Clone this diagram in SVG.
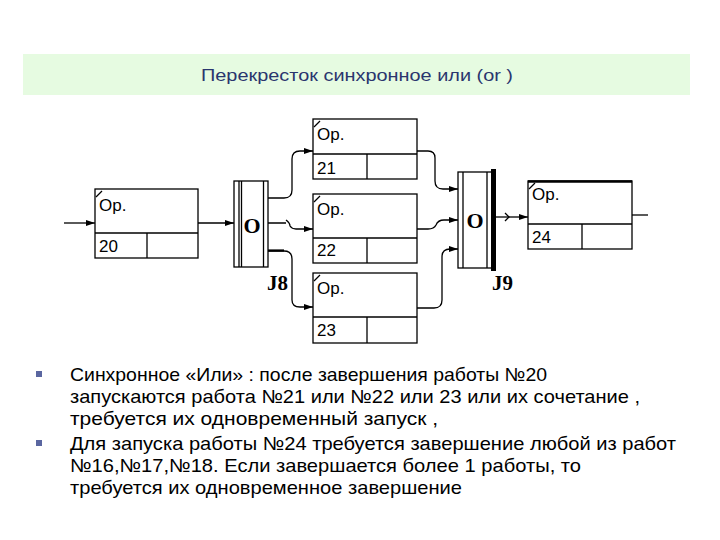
<svg xmlns="http://www.w3.org/2000/svg" width="720" height="540" viewBox="0 0 720 540">
<defs>
<marker id="ah" markerWidth="10" markerHeight="8" refX="9" refY="4" orient="auto" markerUnits="userSpaceOnUse">
<path d="M0,1 L9,4 L0,7 Z" fill="#000"/>
</marker>
<style>
.box{fill:#fff;stroke:#000;stroke-width:1.3}
.ln{fill:none;stroke:#000;stroke-width:1.3}
.con{fill:none;stroke:#000;stroke-width:1.3}
.op{font-family:"Liberation Sans",Arial,sans-serif;font-size:17px;fill:#000}
.jn{font-family:"Liberation Serif","Times New Roman",serif;font-weight:bold;font-size:22px;fill:#000}
.jl{font-family:"Liberation Serif","Times New Roman",serif;font-weight:bold;font-size:21px;fill:#000}
.bt{font-family:"Liberation Sans",Arial,sans-serif;font-size:19px;fill:#000}
.hd{font-family:"Liberation Sans",Arial,sans-serif;font-size:17px;fill:#2a356e}
</style>
</defs>
<rect width="720" height="540" fill="#fff"/>
<g id="header">
<rect x="23" y="54" width="667" height="41" fill="#e6fbe1"/>
<text class="hd" x="201" y="81" textLength="312" lengthAdjust="spacingAndGlyphs">Перекресток синхронное или (or )</text>
</g>

<g id="op20">
<rect class="box" x="95" y="189" width="103" height="69"/>
<line class="ln" x1="95" y1="233" x2="198" y2="233"/>
<line class="ln" x1="147" y1="233" x2="147" y2="258"/>
<line class="ln" x1="96" y1="197" x2="102" y2="191"/>
<text class="op" x="99" y="211">Op.</text>
<text class="op" x="99" y="252">20</text>
</g>
<g id="op21">
<rect class="box" x="313" y="119" width="104" height="60"/>
<line class="ln" x1="313" y1="154" x2="417" y2="154"/>
<line class="ln" x1="367" y1="154" x2="367" y2="179"/>
<line class="ln" x1="314" y1="127" x2="320" y2="121"/>
<text class="op" x="317" y="140">Op.</text>
<text class="op" x="317" y="174">21</text>
</g>
<g id="op22">
<rect class="box" x="313" y="194" width="104" height="69"/>
<line class="ln" x1="313" y1="238" x2="417" y2="238"/>
<line class="ln" x1="367" y1="238" x2="367" y2="263"/>
<line class="ln" x1="314" y1="202" x2="320" y2="196"/>
<text class="op" x="317" y="215">Op.</text>
<text class="op" x="317" y="256">22</text>
</g>
<g id="op23">
<rect class="box" x="313" y="273" width="104" height="70"/>
<line class="ln" x1="313" y1="317" x2="417" y2="317"/>
<line class="ln" x1="367" y1="317" x2="367" y2="343"/>
<line class="ln" x1="314" y1="281" x2="320" y2="275"/>
<text class="op" x="317" y="294">Op.</text>
<text class="op" x="317" y="336">23</text>
</g>
<g id="op24">
<rect class="box" x="528" y="181" width="104" height="68"/>
<line x1="528" y1="181.5" x2="632" y2="181.5" stroke="#000" stroke-width="2.5"/>
<line class="ln" x1="528" y1="224" x2="632" y2="224"/>
<line class="ln" x1="582" y1="224" x2="582" y2="249"/>
<line class="ln" x1="529" y1="189" x2="535" y2="183"/>
<text class="op" x="532" y="200">Op.</text>
<text class="op" x="532" y="243">24</text>
</g>

<g id="J8">
<rect class="box" x="234" y="181" width="34" height="86"/>
<line class="ln" x1="239" y1="181" x2="239" y2="267"/>
<line class="ln" x1="241.5" y1="181" x2="241.5" y2="267"/>
<line class="ln" x1="263.5" y1="181" x2="263.5" y2="267"/>
<text class="jn" x="252" y="233" text-anchor="middle">O</text>
<text class="jl" x="267" y="290">J8</text>
</g>
<g id="J9">
<rect class="box" x="458" y="172" width="34" height="96"/>
<line class="ln" x1="463" y1="172" x2="463" y2="268"/>
<line class="ln" x1="487" y1="172" x2="487" y2="268"/>
<rect x="491" y="169" width="5" height="102" fill="#000"/>
<text class="jn" x="475" y="228" text-anchor="middle">O</text>
<text class="jl" x="492" y="290">J9</text>
</g>

<g id="connectors">
<path class="con" d="M64,223 H95" marker-end="url(#ah)"/>
<path class="con" d="M198,223 H234" marker-end="url(#ah)"/>
<path class="con" d="M268,198 H284 Q292,198 292,190 V159 Q292,151 300,151 H313" marker-end="url(#ah)"/>
<path class="con" d="M268,223 H286 M286,220 Q290,223 290,226 Q292,229 296,229 H313" marker-end="url(#ah)"/>
<path class="con" d="M268,251 H284 Q292,251 292,259 V300 Q292,307 300,307 H313" marker-end="url(#ah)"/>
<line x1="268" y1="250.5" x2="284" y2="250.5" stroke="#000" stroke-width="2.2"/>
<path class="con" d="M417,151 H428 Q435,151 435,158 V181 Q435,189 443,189 H458" marker-end="url(#ah)"/>
<path class="con" d="M417,229 H428 Q434,229 436,225 Q438,220 444,220 H458" marker-end="url(#ah)"/>
<path class="con" d="M417,308 H434 Q442,308 442,300 V257 Q442,249 450,249 H458" marker-end="url(#ah)"/>
<path class="con" d="M496,217 H528" marker-end="url(#ah)"/>
<path class="con" d="M505,213 L509,217 L505,221" stroke-width="0.8"/>
<path class="con" d="M632,215 H648"/>
</g>

<g id="text">
<rect x="36" y="371" width="6" height="6" fill="#5a66a0"/>
<rect x="36" y="440" width="6" height="6" fill="#5a66a0"/>
<text class="bt" x="70" y="381" textLength="477" lengthAdjust="spacingAndGlyphs">Синхронное «Или» : после завершения работы №20</text>
<text class="bt" x="70" y="403" textLength="570" lengthAdjust="spacingAndGlyphs">запускаются работа №21 или №22 или 23 или их сочетание ,</text>
<text class="bt" x="70" y="425" textLength="368" lengthAdjust="spacingAndGlyphs">требуется их одновременный запуск ,</text>
<text class="bt" x="70" y="450" textLength="606" lengthAdjust="spacingAndGlyphs">Для запуска работы №24 требуется завершение любой из работ</text>
<text class="bt" x="70" y="472" textLength="511" lengthAdjust="spacingAndGlyphs">№16,№17,№18. Если завершается более 1 работы, то</text>
<text class="bt" x="70" y="494" textLength="392" lengthAdjust="spacingAndGlyphs">требуется их одновременное завершение</text>
</g>
</svg>
